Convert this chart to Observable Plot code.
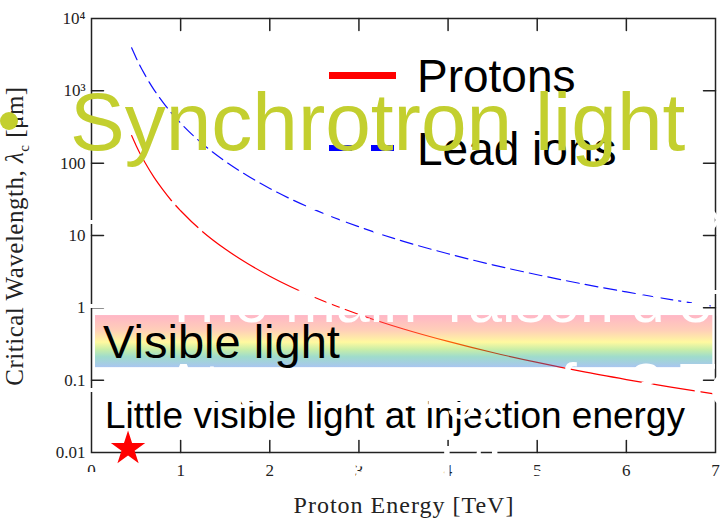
<!DOCTYPE html>
<html>
<head>
<meta charset="utf-8">
<script src="https://cdn.jsdelivr.net/npm/d3@7"></script>
<script src="https://cdn.jsdelivr.net/npm/@observablehq/plot@0.6"></script>
<style>
  html, body { margin: 0; padding: 0; background: #fff; }
  #stage { position: relative; width: 722px; height: 526px; overflow: hidden; background: #fff; }
  #chart { position: absolute; left: 0; top: 0; }
  .t { position: absolute; white-space: nowrap; line-height: 1; }
  .sans { font-family: "Liberation Sans", Arial, sans-serif; }
  .serif { font-family: "Liberation Serif", "Times New Roman", serif; }
  .white { color: #fff; font-size: 61px; }
</style>
</head>
<body>
<div id="stage">
  <div id="chart"></div>

  <!-- axis titles -->
  <div class="t serif" style="left:17px; top:236px; font-size:25px; letter-spacing:0.5px; color:#222; transform:translate(-50%,-50%) rotate(-90deg);">Critical Wavelength, <i>λ</i><sub style="font-size:15px;">c</sub> [μm]</div>
  <div class="t serif" style="left:404px; top:493px; font-size:24px; letter-spacing:1px; color:#222; transform:translateX(-50%);">Proton Energy [TeV]</div>

  <!-- legend -->
  <div class="t" style="left:329px; top:72px; width:67px; height:7px; background:#ff0000;"></div>
  <div class="t" style="left:329px; top:145px; width:67px; height:6px; background:repeating-linear-gradient(to right, #0000ff 0 23px, transparent 23px 42px);"></div>
  <div class="t sans" style="left:417px; top:53px; font-size:46px; color:#000;">Protons</div>
  <div class="t sans" style="left:417px; top:126px; font-size:46px; color:#000;">Lead ions</div>

  <!-- slide heading -->
  <div class="t" style="left:0px; top:112px; width:18px; height:18px; border-radius:50%; background:#c3cf2f;"></div>
  <div class="t sans" style="left:70px; top:81px; font-size:82px; color:#c3cf2f;">Synchrotron light</div>

  <!-- annotations -->
  <div class="t sans" style="left:103px; top:318px; font-size:47px; color:#000;">Visible light</div>
  <div class="t sans" style="left:105px; top:397px; font-size:37px; color:#000;">Little visible light at injection energy</div>

  <!-- bullet points (white) -->
  <div class="t sans white" style="left:86px; top:187px;">–</div>
  <div class="t sans white" style="left:163px; top:187px;">Critical wavelength ∝ 1/γ³</div>
  <div class="t sans white" style="left:86px; top:271px;">–</div>
  <div class="t sans white" style="left:163px; top:271px;">The main ‘raison d’être’ of the undulator</div>
  <div class="t sans white" style="left:86px; top:355px;">–</div>
  <div class="t sans white" style="left:163px; top:355px;">At an energy of ~3 TeV the light becomes visible</div>
  <div class="t sans white" style="left:86px; top:439px;">–</div>
  <div class="t sans white" style="left:352px; top:439px;">and the</div>
</div>

<script>
// Beam energy (TeV) and critical wavelength (μm) of the dipole radiation
const protonEnergy = [0.45, 0.5, 0.55, 0.6, 0.7, 0.8, 0.9, 1, 1.25, 1.5, 1.75, 2, 2.5, 3, 3.5, 4, 4.5, 5, 5.5, 6, 6.5, 7];
const protonLambda = [241, 176, 132, 102, 64, 43, 30, 22, 11.2, 6.5, 4.1, 2.74, 1.40, 0.81, 0.51, 0.343, 0.241, 0.176, 0.132, 0.102, 0.080, 0.064];
const leadLambda   = [3930, 2870, 2150, 1660, 1040, 700, 490, 358, 183, 106, 67, 44.7, 22.8, 13.2, 8.3, 5.6, 3.93, 2.87, 2.15, 1.66, 1.30, 1.04];

// Axis ticks
const xTicks = [0, 1, 2, 3, 4, 5, 6, 7];
const xInnerTicks = [1, 2, 3, 4, 5, 6];
const yTicks = [0.01, 0.1, 1, 10, 100, 1000, 10000];
const yTickLabels = ["0.01", "0.1", "1", "10", "100", "10³", "10⁴"];
const yInnerTicks = [0.1, 1, 10, 100, 1000];

// Visible-light band and the injection-energy marker
const visibleBand = [{e1: 0.045, e2: 6.97, lo: 0.149, hi: 0.782}];
const injection = [{energy: 0.41, lambda: 0.0113}];

const protons = protonEnergy.map((e, i) => ({energy: e, lambda: protonLambda[i]}));
const lead = protonEnergy.map((e, i) => ({energy: e, lambda: leadLambda[i]}));

// straight tick shape for the inward-pointing frame ticks
const tickShape = {draw(ctx, l) { ctx.moveTo(0, 0); ctx.lineTo(0, -l); }};
const tickStyle = {length: 12, anchor: "start", shape: tickShape, stroke: "#222", strokeWidth: 1.5};

const chart = Plot.plot({
  width: 722,
  height: 526,
  marginLeft: 91,
  marginRight: 7,
  marginTop: 18,
  marginBottom: 74,
  style: {fontFamily: "'Liberation Serif', 'Times New Roman', serif", color: "#222", background: "#fff"},
  x: {domain: [0, 7]},
  y: {type: "log", domain: [0.01, 10000]},
  marks: [
    Plot.line(lead, {x: "energy", y: "lambda", stroke: "#1010ff", strokeWidth: 1.2, strokeDasharray: "13,6", curve: "monotone-x"}),
    Plot.line(protons, {x: "energy", y: "lambda", stroke: "#ff0000", strokeWidth: 1.2, curve: "monotone-x"}),
    Plot.rect(visibleBand, {x1: "e1", x2: "e2", y1: "lo", y2: "hi", fill: "url(#rainbow)", fillOpacity: 0.4}),
    Plot.frame({stroke: "#222", strokeWidth: 1.5}),
    Plot.vector(xInnerTicks, {x: d => d, frameAnchor: "bottom", rotate: 0, ...tickStyle}),
    Plot.vector(xInnerTicks, {x: d => d, frameAnchor: "top", rotate: 180, ...tickStyle}),
    Plot.vector(yInnerTicks, {y: d => d, frameAnchor: "left", rotate: 90, ...tickStyle}),
    Plot.vector(yInnerTicks, {y: d => d, frameAnchor: "right", rotate: -90, ...tickStyle}),
    Plot.axisX({ticks: xTicks, tickSize: 0, tickPadding: 11, fontSize: 17, label: null, tickFormat: d => String(d)}),
    Plot.axisY({ticks: yTicks, tickSize: 0, tickPadding: 6, fontSize: 17, label: null, tickFormat: d => yTickLabels[yTicks.indexOf(d)]}),
    Plot.dot(injection, {x: "energy", y: "lambda", symbol: "star", r: 10.8, fill: "#ff0000", stroke: "none"})
  ]
});

// rainbow gradient used by the visible-light band
const defs = d3.select(chart).insert("defs", ":first-child");
const grad = defs.append("linearGradient").attr("id", "rainbow")
  .attr("x1", 0).attr("y1", 0).attr("x2", 0).attr("y2", 1);
[[0, "#ff4870"], [0.3, "#ff894d"], [0.52, "#fff011"], [0.66, "#78d425"], [0.8, "#0fa77f"], [1, "#2870d9"]]
  .forEach(([o, c]) => grad.append("stop").attr("offset", o).attr("stop-color", c));

document.getElementById("chart").appendChild(chart);
</script>
</body>
</html>
